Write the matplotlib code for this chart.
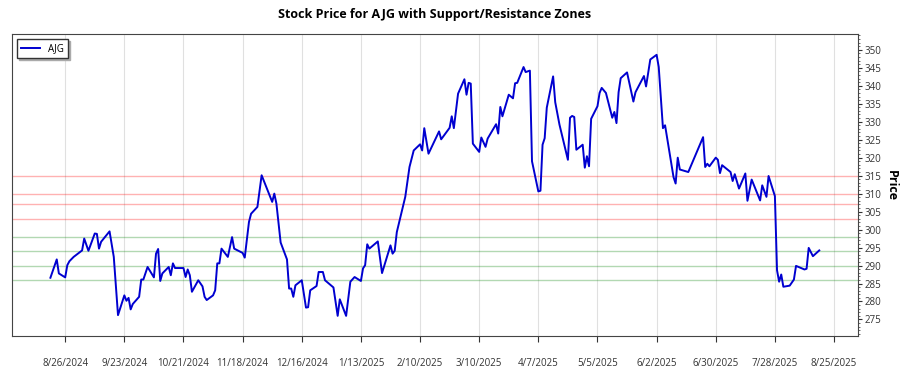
import matplotlib
matplotlib.use('Agg')
import matplotlib.pyplot as plt
from matplotlib.ticker import MultipleLocator
import pandas as pd

plt.rcParams['font.family'] = ['Open Sans', 'DejaVu Sans']

ticker = 'AJG'

# closing prices (2024-08-19 .. 2025-08-18)
dates = [
    '2024-08-19', '2024-08-22', '2024-08-23', '2024-08-26', '2024-08-27', '2024-08-28', '2024-08-30',
    '2024-09-03', '2024-09-04', '2024-09-06', '2024-09-09', '2024-09-10', '2024-09-11', '2024-09-12',
    '2024-09-16', '2024-09-18', '2024-09-20', '2024-09-23', '2024-09-24', '2024-09-25', '2024-09-26',
    '2024-09-27', '2024-09-30', '2024-10-01', '2024-10-02', '2024-10-04', '2024-10-07', '2024-10-08',
    '2024-10-09', '2024-10-10', '2024-10-11', '2024-10-14', '2024-10-15', '2024-10-16', '2024-10-17',
    '2024-10-21', '2024-10-22', '2024-10-23', '2024-10-24', '2024-10-25', '2024-10-28', '2024-10-30',
    '2024-10-31', '2024-11-01', '2024-11-04', '2024-11-05', '2024-11-06', '2024-11-07', '2024-11-08',
    '2024-11-11', '2024-11-13', '2024-11-14', '2024-11-18', '2024-11-19', '2024-11-21', '2024-11-22',
    '2024-11-25', '2024-11-27', '2024-12-02', '2024-12-03', '2024-12-04', '2024-12-06', '2024-12-09',
    '2024-12-10', '2024-12-11', '2024-12-12', '2024-12-13', '2024-12-16', '2024-12-18', '2024-12-19',
    '2024-12-20', '2024-12-23', '2024-12-24', '2024-12-26', '2024-12-27', '2024-12-31', '2025-01-02',
    '2025-01-03', '2025-01-06', '2025-01-08', '2025-01-10', '2025-01-13', '2025-01-14', '2025-01-15',
    '2025-01-16', '2025-01-17', '2025-01-21', '2025-01-23', '2025-01-27', '2025-01-28', '2025-01-29',
    '2025-01-30', '2025-02-03', '2025-02-05', '2025-02-07', '2025-02-10', '2025-02-11', '2025-02-12',
    '2025-02-14', '2025-02-19', '2025-02-20', '2025-02-21', '2025-02-24', '2025-02-25', '2025-02-26',
    '2025-02-28', '2025-03-03', '2025-03-04', '2025-03-05', '2025-03-06', '2025-03-07', '2025-03-10',
    '2025-03-11', '2025-03-13', '2025-03-14', '2025-03-18', '2025-03-19', '2025-03-20', '2025-03-21',
    '2025-03-24', '2025-03-26', '2025-03-27', '2025-03-28', '2025-03-31', '2025-04-01', '2025-04-03',
    '2025-04-04', '2025-04-07', '2025-04-08', '2025-04-09', '2025-04-10', '2025-04-11', '2025-04-14',
    '2025-04-15', '2025-04-17', '2025-04-21', '2025-04-22', '2025-04-23', '2025-04-24', '2025-04-25',
    '2025-04-28', '2025-04-29', '2025-04-30', '2025-05-01', '2025-05-02', '2025-05-05', '2025-05-06',
    '2025-05-07', '2025-05-09', '2025-05-12', '2025-05-13', '2025-05-14', '2025-05-15', '2025-05-16',
    '2025-05-19', '2025-05-22', '2025-05-23', '2025-05-27', '2025-05-28', '2025-05-30', '2025-06-02',
    '2025-06-03', '2025-06-05', '2025-06-06', '2025-06-10', '2025-06-11', '2025-06-12', '2025-06-13',
    '2025-06-17', '2025-06-24', '2025-06-25', '2025-06-26', '2025-06-27', '2025-06-30', '2025-07-01',
    '2025-07-02', '2025-07-03', '2025-07-07', '2025-07-08', '2025-07-09', '2025-07-11', '2025-07-14',
    '2025-07-15', '2025-07-17', '2025-07-21', '2025-07-22', '2025-07-24', '2025-07-25', '2025-07-28',
    '2025-07-29', '2025-07-30', '2025-07-31', '2025-08-01', '2025-08-04', '2025-08-06', '2025-08-07',
    '2025-08-11', '2025-08-12', '2025-08-13', '2025-08-15', '2025-08-18',
]
prices = [
    286.6, 291.7, 287.8, 286.7, 290.1, 291.2, 292.4,
    294.2, 297.5, 294.1, 298.9, 298.8, 294.7, 296.6,
    299.5, 292.4, 276.2, 281.7, 280.2, 281.0, 277.8,
    279.3, 281.3, 286.1, 286.1, 289.6, 286.7, 293.3,
    294.6, 285.7, 287.8, 289.6, 287.3, 290.6, 289.3,
    289.3, 286.8, 288.9, 287.3, 282.7, 285.9, 284.2,
    281.3, 280.4, 281.7, 283.1, 290.6, 290.6, 294.7,
    292.4, 297.9, 294.7, 293.5, 292.2, 302.1, 304.4,
    306.3, 315.1, 307.7, 310.0, 307.2, 296.4, 291.7,
    283.6, 283.6, 281.3, 284.5, 285.9, 278.3, 278.4,
    283.1, 284.3, 288.2, 288.2, 285.9, 283.9, 276.0,
    280.6, 276.0, 285.5, 286.8, 285.7, 289.2, 290.1,
    295.9, 294.7, 296.7, 287.9, 295.6, 293.3, 294.1,
    299.3, 309.1, 317.4, 322.0, 323.7, 322.0, 328.2,
    321.1, 327.3, 325.1, 325.9, 328.3, 331.5, 328.2,
    337.8, 341.8, 337.5, 340.8, 340.6, 323.9, 321.6,
    325.6, 323.0, 325.3, 329.3, 326.7, 334.1, 331.5,
    337.5, 336.5, 340.7, 340.8, 345.2, 343.8, 344.2,
    319.0, 310.6, 310.8, 323.6, 325.4, 333.9, 342.6,
    335.4, 329.2, 319.4, 331.1, 331.6, 331.3, 322.2,
    323.6, 317.2, 320.4, 317.6, 330.8, 334.3, 338.0,
    339.4, 338.0, 331.1, 332.7, 329.6, 338.2, 342.1,
    343.7, 335.6, 338.2, 342.7, 339.8, 347.3, 348.6,
    345.2, 328.2, 329.0, 314.6, 312.8, 320.0, 316.7,
    316.0, 325.7, 317.4, 318.3, 317.6, 320.0, 319.4,
    315.7, 317.9, 316.0, 313.5, 315.4, 311.4, 315.6,
    308.0, 313.9, 308.1, 312.3, 309.1, 314.9, 309.3,
    288.7, 285.5, 287.5, 284.1, 284.4, 286.1, 289.9,
    288.9, 289.1, 294.9, 292.6, 294.2,
]

resistance_levels = [303, 307, 310, 315]
support_levels = [286, 290, 294, 298]

df = pd.DataFrame({'close': prices}, index=pd.to_datetime(dates))

fig = plt.figure(figsize=(9, 3.75), dpi=100)
ax = fig.add_axes([0.0133, 0.104, 0.9397, 0.8045])

for lvl in resistance_levels:
    ax.axhline(lvl, color='red', alpha=0.3, linewidth=1)
for lvl in support_levels:
    ax.axhline(lvl, color='green', alpha=0.3, linewidth=1)

ax.plot(df.index, df['close'], color='#0000d0', linewidth=1.4, label=ticker)

ax.set_ylim(270.4, 354.3)
ax.yaxis.tick_right()
ax.yaxis.set_label_position('right')
ax.yaxis.set_major_locator(MultipleLocator(5))
ax.yaxis.set_minor_locator(MultipleLocator(1))
ax.tick_params(axis='y', which='major', labelsize=7, length=3, pad=2, colors='#333333')
ax.tick_params(axis='y', which='minor', length=1.5, color='#555555')
ax.set_ylabel('Price', rotation=270, fontsize=9, fontweight='bold', labelpad=12)

ticks = pd.date_range('2024-08-26', '2025-08-25', freq='28D')
ax.set_xticks(ticks)
ax.set_xticklabels([f'{d.month}/{d.day}/{d.year}' for d in ticks])
ax.tick_params(axis='x', labelsize=7, length=4, pad=12, colors='#333333')
ax.grid(axis='x', color='#e0e0e0', linewidth=0.8)

for sp in ax.spines.values():
    sp.set_color('#444444')

ax.legend(loc='upper left', fontsize=7, fancybox=False,
          shadow={'ox': 1.5, 'oy': -1.5, 'color': '#aaaaaa', 'alpha': 1},
          edgecolor='#333333', framealpha=1, handlelength=2)
ax.set_title(f'Stock Price for {ticker} with Support/Resistance Zones',
             fontsize=9, fontweight='bold', pad=12)

plt.savefig('out.png', dpi=100)
